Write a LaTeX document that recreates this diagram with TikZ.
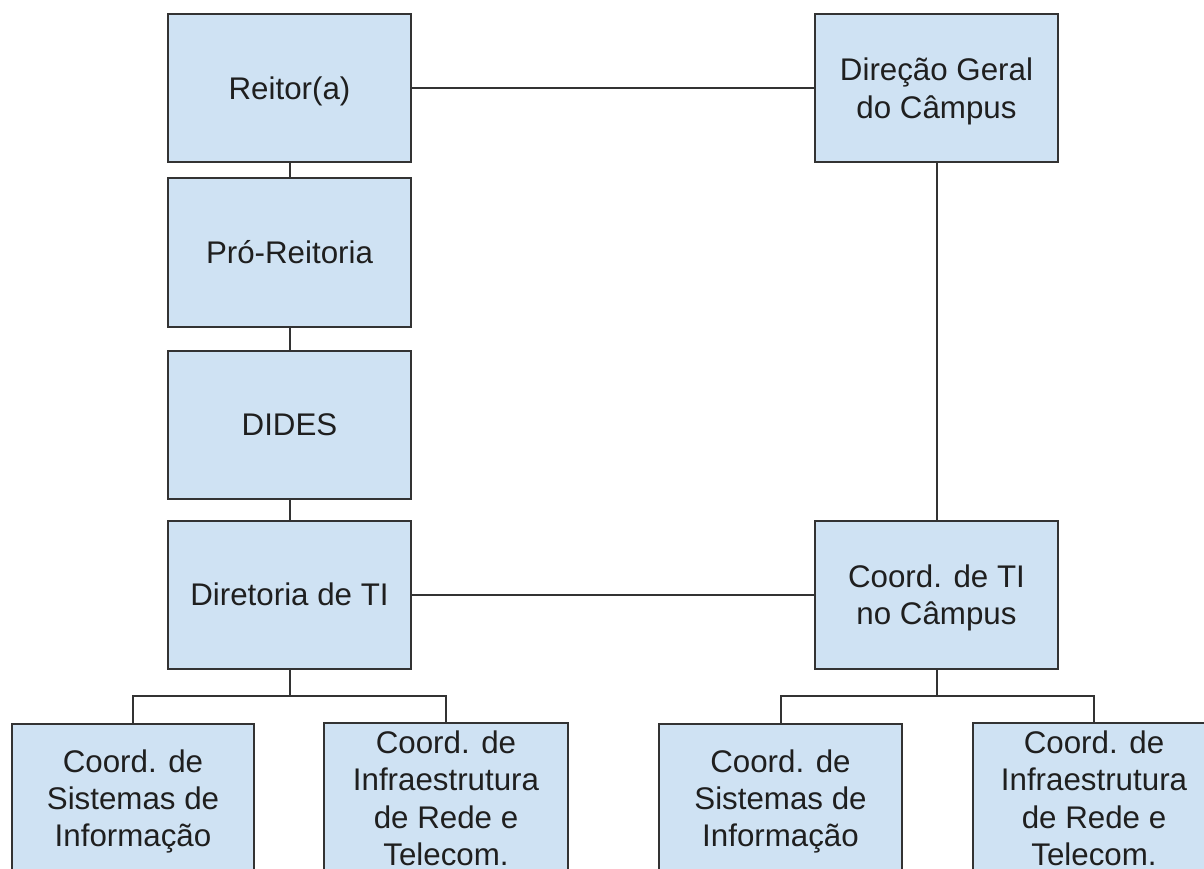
\documentclass[tikz,border=0pt]{standalone}
\usepackage{fontspec}
\setmainfont{Liberation Sans}
\definecolor{boxfill}{HTML}{CFE2F3}
\definecolor{edge}{HTML}{333333}
\definecolor{txt}{HTML}{1F1F1F}
\newcommand\boxtext[1]{\raisebox{-4pt}[\height][\depth]{\begin{tabular}{@{}c@{}}#1\end{tabular}}}
\begin{document}
\begin{tikzpicture}[x=1pt,y=-1pt,
  orgbox/.style={draw=edge, fill=boxfill, line width=2pt, rectangle,
    minimum width=243pt, minimum height=148pt, inner sep=0pt,
    text=txt, font=\fontsize{31.3}{37.3}\selectfont},
  link/.style={draw=edge, line width=2pt}]
\clip (0,0) rectangle (1204,869);
\fill[white] (0,0) rectangle (1204,869);
\node[orgbox] (reitor) at (289.5,88) {\boxtext{Reitor(a)}};
\node[orgbox, minimum height=149pt] (pro) at (289.5,252.5) {\boxtext{Pró-Reitoria}};
\node[orgbox] (dides) at (289.5,424.5) {\boxtext{DIDES}};
\node[orgbox] (dti) at (289.5,594.5) {\boxtext{Diretoria de TI}};
\node[orgbox] (dg) at (936.5,88) {\boxtext{Direção Geral\\do Câmpus}};
\node[orgbox] (cti) at (936.5,594.5) {\boxtext{Coord. de TI\\no Câmpus}};
\node[orgbox, minimum width=242pt] (c1) at (133,798) {\boxtext{Coord. de\\Sistemas de\\Informação}};
\node[orgbox, minimum width=244pt] (c2) at (446,798) {\boxtext{Coord. de\\Infraestrutura\\de Rede e\\Telecom.}};
\node[orgbox] (c3) at (780.5,798) {\boxtext{Coord. de\\Sistemas de\\Informação}};
\node[orgbox] (c4) at (1094,798) {\boxtext{Coord. de\\Infraestrutura\\de Rede e\\Telecom.}};
\coordinate (lbus) at (289.5,696);
\coordinate (rbus) at (936.5,696);
\draw[link] (reitor) -- (pro);
\draw[link] (pro) -- (dides);
\draw[link] (dides) -- (dti);
\draw[link] (reitor) -- (dg);
\draw[link] (dg) -- (cti);
\draw[link] (dti) -- (cti);
\draw[link] (dti.south) -- (lbus);
\draw[link] (c1.north) |- (lbus) -| (c2.north);
\draw[link] (cti.south) -- (rbus);
\draw[link] (c3.north) |- (rbus) -| (c4.north);
\end{tikzpicture}
\end{document}
